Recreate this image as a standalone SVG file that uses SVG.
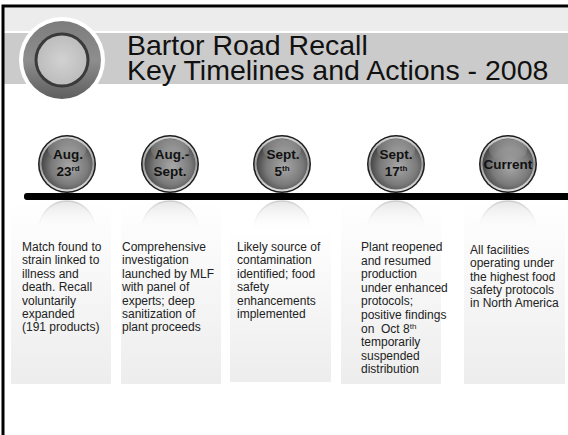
<svg xmlns="http://www.w3.org/2000/svg" width="568" height="435" viewBox="0 0 568 435">
  <style>
    .title { font-family: "Liberation Sans", Arial, sans-serif; font-size: 28.5px; fill: #111; }
    .body { font-family: "Liberation Sans", Arial, sans-serif; font-size: 12px; fill: #222; }
    .date { font-family: "Liberation Sans", Arial, sans-serif; font-size: 13.5px; font-weight: bold; fill: #111; text-anchor: middle; }
    .sup { font-size: 8px; }
    .panel { fill: url(#panelGrad); }
    .ballEdge { fill: #1c1c1c; }
    .ballRim { fill: url(#rimGrad); }
    .ballFace { fill: url(#faceGrad); }
    .ballShine { fill: url(#shineGrad); }
    .reflect { fill: url(#reflectGrad); stroke: url(#reflectStroke); stroke-width: 1.5; }
  </style>
  <defs>
    <linearGradient id="panelGrad" x1="0" y1="0" x2="0" y2="1">
      <stop offset="0" stop-color="#ffffff"/>
      <stop offset="1" stop-color="#ededed"/>
    </linearGradient>
    <linearGradient id="rimGrad" x1="0" y1="0" x2="0" y2="1">
      <stop offset="0" stop-color="#d6d6d6"/>
      <stop offset="0.5" stop-color="#9a9a9a"/>
      <stop offset="1" stop-color="#e0e0e0"/>
    </linearGradient>
    <radialGradient id="faceGrad" cx="0.55" cy="0.55" r="0.6">
      <stop offset="0" stop-color="#a8a8a8"/>
      <stop offset="0.6" stop-color="#7a7a7a"/>
      <stop offset="1" stop-color="#3a3a3a"/>
    </radialGradient>
    <linearGradient id="shineGrad" x1="0" y1="0" x2="0" y2="1">
      <stop offset="0" stop-color="#ffffff" stop-opacity="0.35"/>
      <stop offset="1" stop-color="#ffffff" stop-opacity="0"/>
    </linearGradient>
    <linearGradient id="reflectGrad" x1="0" y1="0" x2="0" y2="1">
      <stop offset="0" stop-color="#d4d4d4" stop-opacity="0.6"/>
      <stop offset="0.55" stop-color="#ffffff" stop-opacity="0"/>
    </linearGradient>
    <linearGradient id="reflectStroke" x1="0" y1="0" x2="0" y2="1">
      <stop offset="0" stop-color="#bdbdbd" stop-opacity="0.7"/>
      <stop offset="0.55" stop-color="#ffffff" stop-opacity="0"/>
    </linearGradient>
    <linearGradient id="logoRim" x1="0" y1="0" x2="0" y2="1">
      <stop offset="0" stop-color="#7c7c7c"/>
      <stop offset="0.5" stop-color="#8e8e8e"/>
      <stop offset="1" stop-color="#5e5e5e"/>
    </linearGradient>
    <radialGradient id="logoFace" cx="0.5" cy="0.5" r="0.5">
      <stop offset="0" stop-color="#d2d2d2"/>
      <stop offset="1" stop-color="#bdbdbd"/>
    </radialGradient>
    <clipPath id="belowBar">
      <rect x="0" y="200" width="568" height="60"/>
    </clipPath>
  </defs>

  <!-- page frame and header bands -->
  <rect x="0" y="0" width="568" height="435" fill="#ffffff"/>
  <rect x="4" y="8" width="564" height="23" fill="#ececec"/>
  <rect x="4" y="33" width="564" height="51" fill="#cbcbcb"/>
  <path d="M3 435 V6 H568" fill="none" stroke="#000" stroke-width="3"/>

  <!-- header emblem -->
  <g id="emblem">
    <circle cx="62" cy="60" r="43" fill="#ffffff"/>
    <circle cx="62" cy="60" r="39" fill="url(#logoRim)"/>
    <circle cx="62" cy="60" r="27.5" fill="#3a3a3a"/>
    <circle cx="62" cy="60" r="24.5" fill="url(#logoFace)"/>
  </g>

  <g id="title">
    <text class="title" x="127"><tspan x="127" y="55">Bartor Road Recall</tspan><tspan x="127" y="80">Key Timelines and Actions - 2008</tspan></text>
  </g>

  <!-- description panels -->
  <g id="panels">
    <rect class="panel" x="11" y="200" width="100" height="184"/>
    <rect class="panel" x="121" y="200" width="100" height="184"/>
    <rect class="panel" x="230" y="228" width="101" height="154"/>
    <rect class="panel" x="341" y="200" width="100" height="184"/>
    <rect class="panel" x="464" y="200" width="101" height="184"/>
  </g>

  <!-- mirrored domes under the bar -->
  <g id="reflections" clip-path="url(#belowBar)">
    <circle class="reflect" cx="67" cy="229" r="28"/>
    <circle class="reflect" cx="170" cy="229" r="28"/>
    <circle class="reflect" cx="282" cy="229" r="28"/>
    <circle class="reflect" cx="396" cy="229" r="28"/>
    <circle class="reflect" cx="508" cy="229" r="28"/>
  </g>

  <!-- timeline bar -->
  <g id="connectors">
    <rect x="24" y="193" width="546" height="7" rx="3" fill="#000"/>
  </g>

  <!-- date markers -->
  <g id="m1">
    <circle class="ballEdge" cx="67" cy="164" r="29"/>
    <circle class="ballRim" cx="67" cy="164" r="27.5"/>
    <circle class="ballFace" cx="67" cy="164" r="25.5"/>
    <ellipse class="ballShine" cx="67" cy="150" rx="19" ry="11"/>
    <text class="date" x="68" y="159">Aug.</text>
    <text class="date" x="68" y="176">23<tspan class="sup" dy="-5">rd</tspan></text>
  </g>
  <g id="m2">
    <circle class="ballEdge" cx="170" cy="164" r="29"/>
    <circle class="ballRim" cx="170" cy="164" r="27.5"/>
    <circle class="ballFace" cx="170" cy="164" r="25.5"/>
    <ellipse class="ballShine" cx="170" cy="150" rx="19" ry="11"/>
    <text class="date" x="172" y="159">Aug.-</text>
    <text class="date" x="170" y="176">Sept.</text>
  </g>
  <g id="m3">
    <circle class="ballEdge" cx="282" cy="164" r="29"/>
    <circle class="ballRim" cx="282" cy="164" r="27.5"/>
    <circle class="ballFace" cx="282" cy="164" r="25.5"/>
    <ellipse class="ballShine" cx="282" cy="150" rx="19" ry="11"/>
    <text class="date" x="283" y="159">Sept.</text>
    <text class="date" x="282" y="176">5<tspan class="sup" dy="-5">th</tspan></text>
  </g>
  <g id="m4">
    <circle class="ballEdge" cx="396" cy="164" r="29"/>
    <circle class="ballRim" cx="396" cy="164" r="27.5"/>
    <circle class="ballFace" cx="396" cy="164" r="25.5"/>
    <ellipse class="ballShine" cx="396" cy="150" rx="19" ry="11"/>
    <text class="date" x="396" y="159">Sept.</text>
    <text class="date" x="396" y="176">17<tspan class="sup" dy="-5">th</tspan></text>
  </g>
  <g id="m5">
    <circle class="ballEdge" cx="508" cy="164" r="29"/>
    <circle class="ballRim" cx="508" cy="164" r="27.5"/>
    <circle class="ballFace" cx="508" cy="164" r="25.5"/>
    <ellipse class="ballShine" cx="508" cy="150" rx="19" ry="11"/>
    <text class="date" x="508" y="169">Current</text>
  </g>

  <!-- panel texts -->
  <g id="t1">
    <text class="body" x="22" y="251">Match found to</text>
    <text class="body" x="22" y="264.4">strain linked to</text>
    <text class="body" x="22" y="277.8">illness and</text>
    <text class="body" x="22" y="291.2">death. Recall</text>
    <text class="body" x="22" y="304.6">voluntarily</text>
    <text class="body" x="22" y="318">expanded</text>
    <text class="body" x="22" y="331.4">(191 products)</text>
  </g>
  <g id="t2">
    <text class="body" x="122" y="251">Comprehensive</text>
    <text class="body" x="122" y="264.4">investigation</text>
    <text class="body" x="122" y="277.8">launched by MLF</text>
    <text class="body" x="122" y="291.2">with panel of</text>
    <text class="body" x="122" y="304.6">experts; deep</text>
    <text class="body" x="122" y="318">sanitization of</text>
    <text class="body" x="122" y="331.4">plant proceeds</text>
  </g>
  <g id="t3">
    <text class="body" x="237" y="251">Likely source of</text>
    <text class="body" x="237" y="264.4">contamination</text>
    <text class="body" x="237" y="277.8">identified; food</text>
    <text class="body" x="237" y="291.2">safety</text>
    <text class="body" x="237" y="304.6">enhancements</text>
    <text class="body" x="237" y="318">implemented</text>
  </g>
  <g id="t4">
    <text class="body" x="361" y="251">Plant reopened</text>
    <text class="body" x="361" y="264.6">and resumed</text>
    <text class="body" x="361" y="278.2">production</text>
    <text class="body" x="361" y="291.8">under enhanced</text>
    <text class="body" x="361" y="305.4">protocols;</text>
    <text class="body" x="361" y="319">positive findings</text>
    <text class="body" x="361" y="332.6" style="white-space:pre">on  Oct 8<tspan class="sup" dy="-4">th</tspan></text>
    <text class="body" x="361" y="346.2">temporarily</text>
    <text class="body" x="361" y="359.8">suspended</text>
    <text class="body" x="361" y="373.4">distribution</text>
  </g>
  <g id="t5">
    <text class="body" x="470" y="254">All facilities</text>
    <text class="body" x="470" y="267.3">operating under</text>
    <text class="body" x="470" y="280.6">the highest food</text>
    <text class="body" x="470" y="293.9">safety protocols</text>
    <text class="body" x="470" y="307.2">in North America</text>
  </g>
</svg>
